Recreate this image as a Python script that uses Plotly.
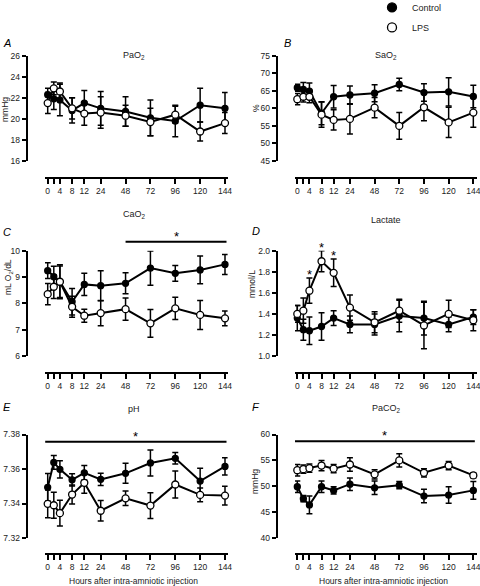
import numpy as np
import plotly.graph_objects as go

# ---------------- data ----------------
hours = [0, 2, 4, 8, 12, 24, 48, 72, 96, 120, 144]
tick_hours = [0, 4, 8, 12, 24, 48, 72, 96, 120, 144]
tick_labels = ["0", "4", "8", "12", "24", "48", "72", "96", "120", "144"]
minor_tick_hours = [2]

pao2_ctrl = [22.3, 21.9, 21.8, 20.8, 21.5, 21.0, 20.7, 20.1, 19.8, 21.3, 21.0]
pao2_ctrl_err = [0.6, 1.0, 1.5, 1.2, 1.2, 1.6, 1.4, 1.7, 1.5, 1.6, 1.5]
pao2_lps = [21.5, 22.9, 22.6, 21.0, 20.5, 20.6, 20.3, 19.7, 20.4, 18.8, 19.6]
pao2_lps_err = [1.0, 0.6, 0.8, 1.0, 1.1, 1.5, 1.0, 1.3, 0.8, 0.9, 1.0]

sao2_ctrl = [65.9, 65.4, 64.9, 58.6, 63.3, 63.8, 64.3, 66.8, 64.5, 64.7, 63.4]
sao2_ctrl_err = [1.0, 2.0, 2.3, 3.3, 3.2, 2.6, 2.4, 1.8, 2.5, 4.0, 3.2]
sao2_lps = [62.6, 63.3, 63.3, 58.2, 56.7, 57.0, 60.2, 55.0, 60.3, 56.0, 58.8]
sao2_lps_err = [1.6, 1.5, 1.7, 3.6, 2.9, 4.3, 2.9, 3.8, 3.8, 4.3, 4.2]

cao2_ctrl = [9.24, 9.01, 8.82, 8.06, 8.72, 8.67, 8.76, 9.34, 9.14, 9.27, 9.48]
cao2_ctrl_err = [0.3, 0.4, 0.6, 0.5, 0.42, 0.57, 0.4, 0.65, 0.3, 0.53, 0.38]
cao2_lps = [8.35, 8.63, 8.82, 7.87, 7.53, 7.63, 7.78, 7.24, 7.81, 7.56, 7.43]
cao2_lps_err = [0.4, 0.45, 0.65, 0.4, 0.25, 0.48, 0.42, 0.53, 0.42, 0.55, 0.28]

lact_ctrl = [1.36, 1.25, 1.24, 1.28, 1.36, 1.30, 1.30, 1.38, 1.36, 1.30, 1.37]
lact_ctrl_err = [0.12, 0.1, 0.13, 0.13, 0.07, 0.08, 0.1, 0.15, 0.16, 0.07, 0.07]
lact_lps = [1.40, 1.43, 1.62, 1.90, 1.79, 1.46, 1.32, 1.43, 1.29, 1.40, 1.34]
lact_lps_err = [0.08, 0.12, 0.12, 0.1, 0.13, 0.12, 0.1, 0.11, 0.22, 0.13, 0.1]

ph_ctrl = [7.3494, 7.3638, 7.3598, 7.3537, 7.3578, 7.3540, 7.3575, 7.3635, 7.3662, 7.3530, 7.3615]
ph_ctrl_err = [0.008, 0.004, 0.005, 0.0035, 0.0042, 0.0036, 0.0058, 0.0075, 0.0033, 0.0075, 0.005]
ph_lps = [7.3398, 7.3390, 7.3344, 7.3452, 7.3520, 7.3358, 7.3430, 7.3388, 7.3510, 7.3450, 7.3446]
ph_lps_err = [0.008, 0.0075, 0.0075, 0.0055, 0.006, 0.006, 0.0042, 0.0075, 0.0078, 0.004, 0.0054]

paco2_ctrl = [49.9, 47.6, 46.4, 49.9, 49.2, 50.4, 49.7, 50.2, 48.1, 48.3, 49.2]
paco2_ctrl_err = [1.1, 0.6, 1.7, 1.1, 0.7, 1.2, 1.3, 0.7, 1.3, 1.6, 1.7]
paco2_lps = [53.1, 53.3, 53.5, 54.0, 53.4, 54.2, 52.3, 55.0, 52.6, 54.0, 52.1]
paco2_lps_err = [1.1, 0.8, 0.8, 1.0, 0.8, 1.3, 0.9, 1.3, 0.8, 0.8, 0.5]

# significance: ranges (hours) with a bar, or single time points (LPS)
sig_cao2 = [48, 144]
sig_ph = [0, 144]
sig_paco2 = [0, 144]
sig_lactate_points = [4, 8, 12]

# ---------------- piecewise time scale ----------------
HOUR_BREAKS = [0, 12, 24, 144]
POS_BREAKS = [0, 36.6, 53, 177.3]


def tpos(h):
    return np.interp(h, HOUR_BREAKS, POS_BREAKS)


W, H = 480, 586
FONT = "Liberation Sans, Arial, sans-serif"
TXT = "#222"


def px(x):
    return x / W


def py(y):
    return 1 - y / H


panels = [
    dict(key="A", title="PaO<sub>2</sub>", ytitle="mmHg", ctrl=pao2_ctrl, ce=pao2_ctrl_err,
         lps=pao2_lps, le=pao2_lps_err, rng=[16, 26], dtick=2, fmt="d", col=0, row=0),
    dict(key="B", title="SaO<sub>2</sub>", ytitle="%", ctrl=sao2_ctrl, ce=sao2_ctrl_err,
         lps=sao2_lps, le=sao2_lps_err, rng=[45, 75], dtick=5, fmt="d", col=1, row=0),
    dict(key="C", title="CaO<sub>2</sub>", ytitle="mL O<sub>2</sub>/dL", ctrl=cao2_ctrl, ce=cao2_ctrl_err,
         lps=cao2_lps, le=cao2_lps_err, rng=[6, 10], dtick=1, fmt="d", col=0, row=1),
    dict(key="D", title="Lactate", ytitle="mmol/L", ctrl=lact_ctrl, ce=lact_ctrl_err,
         lps=lact_lps, le=lact_lps_err, rng=[1.0, 2.0], dtick=0.2, fmt=".1f", col=1, row=1),
    dict(key="E", title="pH", ytitle="", ctrl=ph_ctrl, ce=ph_ctrl_err,
         lps=ph_lps, le=ph_lps_err, rng=[7.32, 7.38], dtick=0.02, fmt=".2f", col=0, row=2),
    dict(key="F", title="PaCO<sub>2</sub>", ytitle="mmHg", ctrl=paco2_ctrl, ce=paco2_ctrl_err,
         lps=paco2_lps, le=paco2_lps_err, rng=[40, 60], dtick=5, fmt="d", col=1, row=2),
]

# layout geometry (pixels)
col_xdom = [(45, 227.6), (295, 477)]
col_xrange = [(-2.7, 179.9), (-2.32, 181.0)]
col_yaxis_x = [26.6, 276.7]
row_ydom = [(55.7, 161), (250.7, 356), (434.5, 538)]
row_xline = [177.7, 372.5, 554]
title_y = {"A": 56, "B": 56, "C": 214, "D": 220, "E": 409, "F": 409}
title_x = [134, 386]
letter_pos = {"A": (7, 43), "B": (287, 43), "C": (7, 232), "D": (256, 231), "E": (7, 407), "F": (256, 407)}
ytitle_pos = {"A": (5, 110), "B": (256, 108), "C": (8, 277), "D": (252, 284), "F": (255, 482)}

fig = go.Figure()
layout = dict(width=W, height=H, margin=dict(l=0, r=0, t=0, b=0, pad=0, autoexpand=False),
              paper_bgcolor="white", plot_bgcolor="white",
              font=dict(family=FONT, size=9, color=TXT), showlegend=True)
annotations = []
shapes = []

tickv = [float(tpos(h)) for h in tick_hours]
minorv = [float(tpos(h)) for h in minor_tick_hours]
xpos = [float(tpos(h)) for h in hours]

for i, p in enumerate(panels):
    n = i + 1
    xa = "xaxis" if n == 1 else f"xaxis{n}"
    ya = "yaxis" if n == 1 else f"yaxis{n}"
    xr = "x" if n == 1 else f"x{n}"
    yr = "y" if n == 1 else f"y{n}"
    c, r = p["col"], p["row"]
    ytop, ybot = row_ydom[r]
    x0, x1 = col_xdom[c]

    layout[xa] = dict(domain=[px(x0), px(x1)], range=list(col_xrange[c]), anchor="free",
                      position=py(row_xline[r]), showline=True, linecolor="black", linewidth=2,
                      ticks="outside", ticklen=5, tickwidth=2, tickcolor="black",
                      tickvals=tickv, ticktext=tick_labels, showgrid=False, zeroline=False,
                      automargin=False, ticklabeloverflow="allow",
                      minor=dict(tickvals=minorv, ticks="outside", ticklen=5, tickwidth=2,
                                 tickcolor="black", showgrid=False),
                      tickfont=dict(size=8.5, color=TXT, family=FONT))
    layout[ya] = dict(domain=[py(ybot), py(ytop)], range=p["rng"], anchor="free",
                      position=px(col_yaxis_x[c]), showline=True, linecolor="black", linewidth=2,
                      ticks="outside", ticklen=4, tickwidth=2, tickcolor="black",
                      dtick=p["dtick"], tick0=p["rng"][0], tickformat=p["fmt"],
                      showgrid=False, zeroline=False, automargin=False, ticklabeloverflow="allow",
                      tickfont=dict(size=8.5, color=TXT, family=FONT))

    for vals, errs, fill, size in [(p["ctrl"], p["ce"], "black", 6), (p["lps"], p["le"], "white", 7)]:
        fig.add_trace(go.Scatter(
            x=xpos, y=vals, xaxis=xr, yaxis=yr, mode="lines+markers", showlegend=False,
            line=dict(color="black", width=2),
            marker=dict(symbol="circle", size=size, color=fill, line=dict(color="black", width=1.3)),
            error_y=dict(type="data", array=errs, visible=True, color="black", thickness=1.5, width=3),
            cliponaxis=False, hoverinfo="skip",
        ))

    # panel title / letter / y title
    annotations.append(dict(text=p["title"], x=px(title_x[c]), y=py(title_y[p["key"]]), xref="paper",
                             yref="paper", showarrow=False, xanchor="center", yanchor="middle",
                             font=dict(size=9, color=TXT, family=FONT)))
    lx, ly = letter_pos[p["key"]]
    annotations.append(dict(text="<i>" + p["key"] + "</i>", x=px(lx), y=py(ly), xref="paper", yref="paper",
                             showarrow=False, xanchor="center", yanchor="middle",
                             font=dict(size=11, color="black", family=FONT)))
    if p["ytitle"]:
        tx, ty = ytitle_pos[p["key"]]
        annotations.append(dict(text=p["ytitle"], x=px(tx), y=py(ty), xref="paper", yref="paper",
                                 showarrow=False, textangle=-90, xanchor="center", yanchor="middle",
                                 font=dict(size=8.5, color=TXT, family=FONT)))
    if r == 2:
        annotations.append(dict(text="Hours after intra-amniotic injection", x=px((x0 + x1) / 2 - 3),
                                 y=py(581), xref="paper", yref="paper", showarrow=False,
                                 xanchor="center", yanchor="middle",
                                 font=dict(size=8.5, color=TXT, family=FONT)))

    # significance bars
    sig = {"C": (sig_cao2, 1.085), "E": (sig_ph, 0.93), "F": (sig_paco2, 0.935)}.get(p["key"])
    if sig:
        (h0, h1), yd = sig
        xa0, xa1 = float(tpos(h0)), float(tpos(h1))
        if h0 == hours[0]:
            xa0 -= 2.5
        if h1 == hours[-1]:
            xa1 += 1.5
        shapes.append(dict(type="line", xref=xr, yref=f"{yr} domain", x0=xa0, x1=xa1, y0=yd, y1=yd,
                           line=dict(color="black", width=2)))
        annotations.append(dict(text="*", x=(xa0 + xa1) / 2, y=yd, xref=xr, yref=f"{yr} domain",
                                 showarrow=False, xanchor="center", yanchor="bottom", yshift=-4,
                                 font=dict(size=13, color="black", family=FONT)))
    if p["key"] == "D":
        for h in sig_lactate_points:
            k = hours.index(h)
            annotations.append(dict(text="*", x=float(tpos(h)), y=p["lps"][k] + p["le"][k], xref=xr, yref=yr,
                                     showarrow=False, xanchor="center", yanchor="bottom", yshift=-6,
                                     font=dict(size=13, color="black", family=FONT)))

# legend entries
fig.add_trace(go.Scatter(x=[None], y=[None], mode="markers", name="Control", legendgroup="c",
                         marker=dict(symbol="circle", size=9, color="black", line=dict(color="black", width=1.3))))
fig.add_trace(go.Scatter(x=[None], y=[None], mode="markers", name="LPS", legendgroup="l",
                         marker=dict(symbol="circle", size=9, color="white", line=dict(color="black", width=1.3))))

layout["legend"] = dict(x=px(372), y=1.012, xanchor="left", yanchor="top", bgcolor="rgba(0,0,0,0)",
                        traceorder="grouped", tracegroupgap=1, font=dict(size=9, color=TXT, family=FONT),
                        itemwidth=30)
layout["annotations"] = annotations
layout["shapes"] = shapes
layout["hovermode"] = False
fig.update_layout(**layout)
fig.write_html("out.html", config={"displayModeBar": False, "staticPlot": True},
               post_script="document.body.style.margin='0px';document.body.style.padding='0px';")
